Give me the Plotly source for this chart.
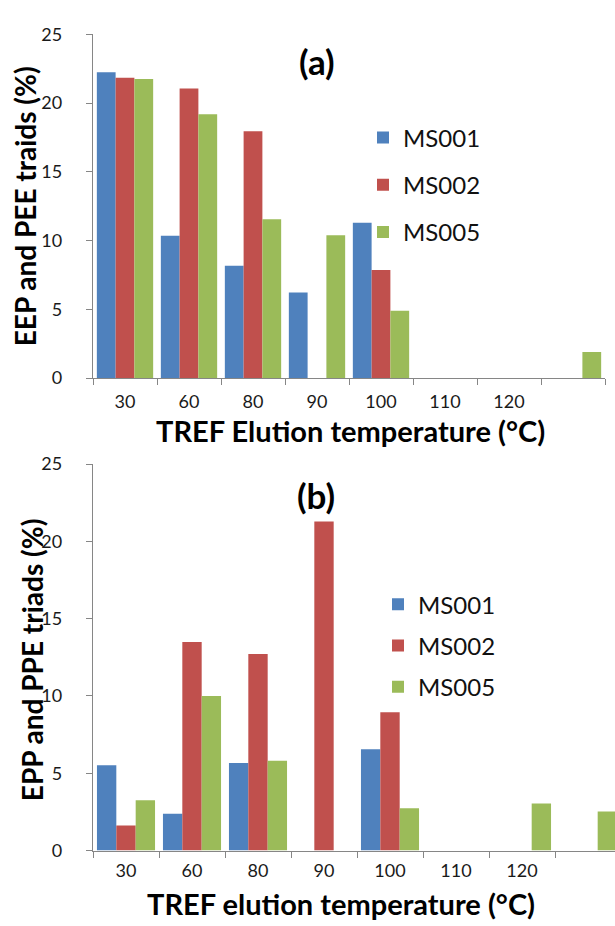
import plotly.graph_objects as go

# TREF fractions (elution temperature, °C); the last fraction carries no label
categories = ["30", "60", "80", "90", "100", "110", "120", " "]
tick_labels = ["30", "60", "80", "90", "100", "110", "120", ""]
samples = ["MS001", "MS002", "MS005"]
colors = ["#4F81BD", "#C0504D", "#9BBB59"]

# (a) EEP and PEE triads (%)
eep_pee = {
    "MS001": [22.25, 10.35, 8.17, 6.23, 11.3, 0, 0, 0],
    "MS002": [21.85, 21.07, 17.95, 0, 7.86, 0, 0, 0],
    "MS005": [21.76, 19.2, 11.55, 10.39, 4.9, 0, 0, 1.9],
}
# (b) EPP and PPE triads (%)
epp_ppe = {
    "MS001": [5.52, 2.38, 5.66, 0, 6.55, 0, 0, 0],
    "MS002": [1.62, 13.49, 12.72, 21.28, 8.95, 0, 0, 0],
    "MS005": [3.26, 10.0, 5.81, 0, 2.74, 0, 3.05, 2.53],
}

W, H = 615, 926
FONT = "Lato, Open Sans, sans-serif"
AXIS_GREY = "#868686"


def px(x):
    return x / W


def py(y):
    return 1 - y / H


fig = go.Figure()
for name, col in zip(samples, colors):
    fig.add_trace(go.Bar(x=categories, y=eep_pee[name], name=name,
                         marker=dict(color=col, line=dict(width=0)),
                         xaxis="x", yaxis="y", legend="legend",
                         legendgroup="a" + name))
for name, col in zip(samples, colors):
    fig.add_trace(go.Bar(x=categories, y=epp_ppe[name], name=name,
                         marker=dict(color=col, line=dict(width=0)),
                         xaxis="x2", yaxis="y2", legend="legend2",
                         legendgroup="b" + name))

xcommon = dict(type="category", categoryorder="array", categoryarray=categories,
               tickmode="array", tickvals=categories, ticktext=tick_labels,
               tickson="boundaries", ticks="outside", ticklen=6, tickwidth=1,
               tickcolor=AXIS_GREY, showline=True, linecolor=AXIS_GREY,
               linewidth=1.3, showgrid=False, zeroline=False,
               ticklabelstandoff=7,
               tickfont=dict(family=FONT, size=18, color="#1a1a1a"))
ycommon = dict(range=[0, 25], tickvals=[0, 5, 10, 15, 20, 25], ticks="outside",
               ticklen=6, tickwidth=1, tickcolor=AXIS_GREY, showline=True,
               linecolor=AXIS_GREY, linewidth=1.3, showgrid=False,
               zeroline=False, ticklabelstandoff=20,
               tickfont=dict(family=FONT, size=18, color="#1a1a1a"))

legend_common = dict(font=dict(family=FONT, size=24, color="#111"),
                     bgcolor="rgba(0,0,0,0)", borderwidth=0,
                     tracegroupgap=13, xanchor="left", yanchor="top",
                     itemclick=False, itemdoubleclick=False)

fig.update_layout(
    width=W, height=H, margin=dict(l=0, r=0, t=0, b=0),
    paper_bgcolor="white", plot_bgcolor="white",
    barmode="group", bargap=0.12, bargroupgap=0,
    showlegend=True,
    xaxis=dict(xcommon, domain=[px(93), px(605)], range=[-0.5, 7.5], anchor="y"),
    yaxis=dict(ycommon, domain=[py(375), py(23)], anchor="x"),
    xaxis2=dict(xcommon, domain=[px(93), 1.0], range=[-0.5, -0.5 + 522 / 66],
                anchor="y2", ticklabelstandoff=4),
    yaxis2=dict(ycommon, domain=[py(859), py(463)], anchor="x2"),
    legend=dict(legend_common, x=px(363), y=py(106)),
    legend2=dict(legend_common, x=px(378), y=py(584), tracegroupgap=7),
)

ann = [
    dict(text="<b>(a)</b>", x=px(317), y=py(50)),
    dict(text="<b>(b)</b>", x=px(316), y=py(495)),
]
annotations = [dict(a, xref="paper", yref="paper", showarrow=False,
                    xanchor="center", yanchor="middle",
                    font=dict(family=FONT, size=35, color="black")) for a in ann]

titles = [
    dict(text="<b>TREF Elution temperature (°C)</b>", x=px(351), y=py(429),
         textangle=0, size=29),
    dict(text="<b>TREF elution temperature (°C)</b>", x=px(341), y=py(913),
         textangle=0, size=29),
    dict(text="<b>EEP and PEE traids (%)</b>", x=px(25), y=py(199),
         textangle=-90, size=28),
    dict(text="<b>EPP and PPE triads (%)</b>", x=px(32), y=py(664),
         textangle=-90, size=28),
]
for t in titles:
    size = t.pop("size")
    annotations.append(dict(t, xref="paper", yref="paper", showarrow=False,
                            xanchor="center", yanchor="middle",
                            font=dict(family=FONT, size=size, color="black")))
fig.update_layout(annotations=annotations)

fig.write_html("out.html")
